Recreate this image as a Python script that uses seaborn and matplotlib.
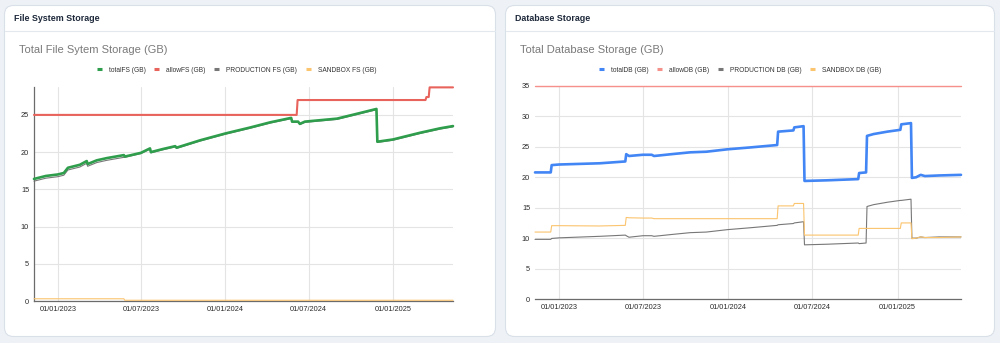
import matplotlib
matplotlib.use("Agg")
import matplotlib.pyplot as plt
import matplotlib.dates as mdates
from matplotlib.patches import FancyBboxPatch
from matplotlib.lines import Line2D
import pandas as pd
import seaborn as sns

# ---------------- File system storage (GB) ----------------
fs_dates = [
    "2022-11-10", "2022-12-06", "2023-01-01", "2023-01-14", "2023-01-23",
    "2023-02-18", "2023-03-05", "2023-03-07", "2023-03-27", "2023-04-18",
    "2023-05-25", "2023-05-27", "2023-07-01", "2023-07-21", "2023-07-23",
    "2023-08-17", "2023-09-14", "2023-09-17", "2023-11-08", "2024-01-01",
    "2024-02-24", "2024-04-08", "2024-05-24", "2024-05-26", "2024-06-08",
    "2024-06-12", "2024-06-23", "2024-09-01", "2024-10-11", "2024-11-26",
    "2024-11-28", "2025-01-01", "2025-03-01", "2025-04-14", "2025-05-12",
]
fs_total = [
    16.4, 16.8, 17.0, 17.2, 17.9, 18.3, 18.8, 18.4, 18.9, 19.2,
    19.6, 19.4, 19.9, 20.5, 20.0, 20.4, 20.8, 20.6, 21.6, 22.5,
    23.3, 24.0, 24.6, 24.1, 24.1, 23.8, 24.1, 24.5, 25.1, 25.8,
    21.4, 21.7, 22.6, 23.2, 23.5,
]
fs_production = [
    16.1, 16.5, 16.7, 16.9, 17.6, 18.0, 18.5, 18.1, 18.6, 18.9,
    19.3, 19.3, 19.8, 20.4, 19.9, 20.3, 20.7, 20.5, 21.5, 22.4,
    23.2, 23.9, 24.5, 24.0, 24.0, 23.7, 24.0, 24.4, 25.0, 25.7,
    21.3, 21.6, 22.5, 23.1, 23.4,
]
fs_sandbox = [
    0.3, 0.3, 0.3, 0.3, 0.3, 0.3, 0.3, 0.3, 0.3, 0.3,
    0.3, 0.1, 0.1, 0.1, 0.1, 0.1, 0.1, 0.1, 0.1, 0.1,
    0.1, 0.1, 0.1, 0.1, 0.1, 0.1, 0.1, 0.1, 0.1, 0.1,
    0.1, 0.1, 0.1, 0.1, 0.1,
]
fs_allow_dates = [
    "2022-11-10", "2024-06-05", "2024-06-07", "2025-03-13",
    "2025-03-15", "2025-03-20", "2025-03-22", "2025-05-12",
]
fs_allow = [25, 25, 27, 27, 27.4, 27.4, 28.7, 28.7]

# ---------------- Database storage (GB) ----------------
db_dates = [
    "2022-11-10", "2022-12-14", "2022-12-16", "2023-01-01", "2023-03-30",
    "2023-05-24", "2023-05-26", "2023-06-01", "2023-07-01", "2023-07-20",
    "2023-07-25", "2023-08-07", "2023-09-01", "2023-10-11", "2023-11-15",
    "2023-12-31", "2024-02-17", "2024-04-16", "2024-04-18", "2024-05-21",
    "2024-05-23", "2024-06-12", "2024-06-14", "2024-08-01", "2024-10-08",
    "2024-10-10", "2024-10-25", "2024-10-27", "2024-11-10", "2024-12-10",
    "2025-01-07", "2025-01-09", "2025-01-30", "2025-02-01", "2025-02-10",
    "2025-02-20", "2025-03-01", "2025-04-01", "2025-05-18",
]
db_total = [
    20.8, 20.8, 22.0, 22.1, 22.3, 22.6, 23.8, 23.5, 23.7, 23.7,
    23.5, 23.6, 23.8, 24.1, 24.2, 24.6, 24.9, 25.3, 27.5, 27.7,
    28.2, 28.4, 19.4, 19.5, 19.7, 20.7, 20.8, 26.8, 27.1, 27.5,
    27.8, 28.7, 28.9, 19.9, 20.0, 20.4, 20.2, 20.3, 20.4,
]
db_production = [
    9.8, 9.8, 9.95, 10.05, 10.3, 10.5, 10.4, 10.15, 10.4, 10.4,
    10.3, 10.4, 10.6, 10.9, 11.0, 11.4, 11.7, 12.1, 12.2, 12.4,
    12.5, 12.7, 8.9, 9.0, 9.2, 9.1, 9.2, 15.2, 15.5, 15.9,
    16.2, 16.2, 16.4, 10.0, 10.0, 10.2, 10.1, 10.2, 10.2,
]
db_sandbox = [
    11.0, 11.0, 12.05, 12.05, 12.0, 12.1, 13.4, 13.35, 13.3, 13.3,
    13.2, 13.2, 13.2, 13.2, 13.2, 13.2, 13.2, 13.2, 15.3, 15.3,
    15.7, 15.7, 10.5, 10.5, 10.5, 11.6, 11.6, 11.6, 11.6, 11.6,
    11.6, 12.5, 12.5, 9.9, 10.0, 10.2, 10.1, 10.1, 10.2,
]
db_allow_dates = ["2022-11-10", "2025-05-18"]
db_allow = [35, 35]

date_ticks = ["2023-01-01", "2023-07-01", "2024-01-01", "2024-07-01", "2025-01-01"]
fs_yticks = [0, 5, 10, 15, 20, 25]
db_yticks = [0, 5, 10, 15, 20, 25, 30, 35]

fs_labels = ["totalFS (GB)", "allowFS (GB)", "PRODUCTION FS (GB)", "SANDBOX FS (GB)"]
db_labels = ["totalDB (GB)", "allowDB (GB)", "PRODUCTION DB (GB)", "SANDBOX DB (GB)"]

GREEN, BLUE = "#2f9e4c", "#4285f4"
RED_FS, RED_DB = "#e8635c", "#f4918a"
GRAY, ORANGE = "#777777", "#fbc46e"

sns.set_theme(style="white")
plt.rcParams["font.family"] = ["Liberation Sans", "DejaVu Sans"]

W, H = 1000, 343
fig = plt.figure(figsize=(W / 100, H / 100), dpi=100)
fig.patch.set_facecolor("#eef2f7")

# page layer in pixel coordinates
bg = fig.add_axes([0, 0, 1, 1], zorder=0)
bg.set_xlim(0, W)
bg.set_ylim(H, 0)
bg.axis("off")

cards = [(4.5, 495.5, "File System Storage", "Total File Sytem Storage (GB)"),
         (505.5, 994.5, "Database Storage", "Total Database Storage (GB)")]
for x0, x1, header, title in cards:
    bg.add_patch(FancyBboxPatch((x0, 5.5), x1 - x0, 331,
                                boxstyle="round,pad=0,rounding_size=9",
                                fc="white", ec="#d9e0e8", lw=0.8))
    bg.plot([x0 + 0.5, x1 - 0.5], [30.5, 30.5], color="#e3e8ef", lw=0.8)
    bg.text(x0 + 9.5, 18.5, header, fontsize=6.4, fontweight="bold",
            color="#1e293b", va="center", ha="left")
    bg.text(x0 + 14.5, 50, title, fontsize=8, color="#7a7a7a",
            va="center", ha="left")


def draw_panel(rect, dates, total, prod, sand, allow_dates, allow,
               total_color, allow_color, allow_lw, yticks, ylim, xlim,
               labels, legend_x, left_spine, prod_z):
    ax = fig.add_axes(rect, zorder=2)
    ax.set_facecolor("none")
    d = pd.to_datetime(dates)
    ad = pd.to_datetime(allow_dates)
    sns.lineplot(x=d, y=prod, ax=ax, color=GRAY, linewidth=0.8,
                 zorder=prod_z, clip_on=False)
    sns.lineplot(x=d, y=total, ax=ax, color=total_color, linewidth=1.9,
                 zorder=3, clip_on=False)
    sns.lineplot(x=ad, y=allow, ax=ax, color=allow_color, linewidth=allow_lw,
                 zorder=3, clip_on=False)
    sns.lineplot(x=d, y=sand, ax=ax, color=ORANGE, linewidth=0.8,
                 zorder=5, clip_on=False)

    ax.set_xlim(pd.to_datetime(xlim[0]), pd.to_datetime(xlim[1]))
    ax.set_ylim(*ylim)
    ax.set_yticks(yticks)
    ax.set_xticks(pd.to_datetime(date_ticks))
    ax.xaxis.set_major_formatter(mdates.DateFormatter("%d/%m/%Y"))
    ax.set_xlabel("")
    ax.set_ylabel("")
    ax.grid(True, color="#e4e4e4", lw=0.8)
    ax.set_axisbelow(True)
    ax.tick_params(length=0, labelsize=5.3, colors="#2b2b2b", pad=3.5)
    for s in ("top", "right"):
        ax.spines[s].set_visible(False)
    ax.spines["bottom"].set_color("#6b6b6b")
    ax.spines["bottom"].set_linewidth(0.9)
    if left_spine:
        ax.spines["left"].set_color("#6b6b6b")
        ax.spines["left"].set_linewidth(0.9)
    else:
        ax.spines["left"].set_visible(False)

    handles = [Line2D([0], [0], color=c, lw=2.2, solid_capstyle="butt")
               for c in (total_color, allow_color, GRAY, ORANGE)]
    ax.legend(handles, labels, loc="center", bbox_to_anchor=(legend_x, 70),
              bbox_transform=bg.transData, ncol=4, frameon=False,
              fontsize=4.8, handlelength=0.75, handletextpad=1.0,
              columnspacing=1.35, labelcolor="#333333")
    return ax


draw_panel([34 / W, 1 - 301 / H, 419 / W, 214 / H],
           fs_dates, fs_total, fs_production, fs_sandbox,
           fs_allow_dates, fs_allow, GREEN, RED_FS, 1.5,
           fs_yticks, (0, 28.75), ("2022-11-10", "2025-05-12"),
           fs_labels, 236.5, True, 2.5)

draw_panel([535 / W, 1 - 299 / H, 426 / W, 213 / H],
           db_dates, db_total, db_production, db_sandbox,
           db_allow_dates, db_allow, BLUE, RED_DB, 1.0,
           db_yticks, (0, 35), ("2022-11-10", "2025-05-18"),
           db_labels, 740, False, 4)

fig.savefig("out.png", dpi=100, facecolor=fig.get_facecolor())
